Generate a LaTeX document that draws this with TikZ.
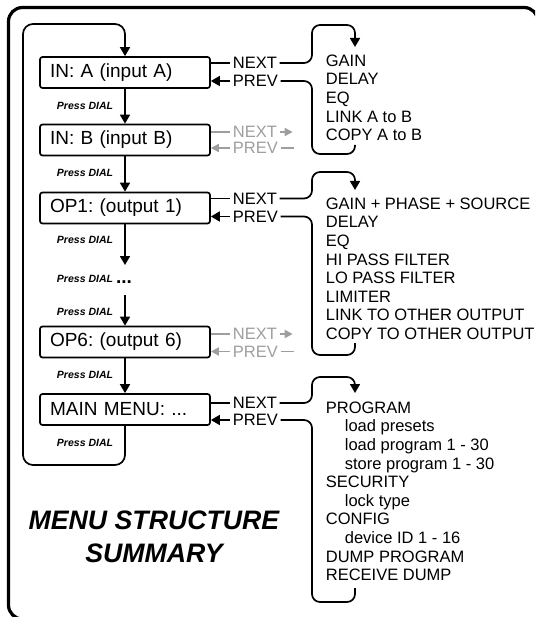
\documentclass[tikz,border=0pt]{standalone}
\usepackage{fontspec}
\setmainfont{Liberation Sans}
\usetikzlibrary{arrows.meta}
\definecolor{dimgray}{gray}{0.62}
\frenchspacing

\begin{document}
\begin{tikzpicture}[x=1pt,y=-1pt,>={Triangle[length=9pt,width=10pt]},line width=1.7pt,
    menu node/.style={draw,rounded corners=2.5pt,minimum height=31pt,text width=150pt,inner xsep=10pt,align=left,font=\fontsize{19}{22}\selectfont},
    dial node/.style={inner sep=0pt,font=\fontsize{10.5}{12}\selectfont\bfseries\itshape},
    key node/.style={anchor=west,inner sep=2pt,font=\fontsize{16.5}{18}\selectfont},
    grey node/.style={key node,text=dimgray},
    list node/.style={anchor=north west,inner sep=0pt,align=left,font=\fontsize{16.5}{18.6}\selectfont}]
                \useasboundingbox (0,0) rectangle (535,617);
                \clip (0,0) rectangle (535,617);
                \draw[line width=3.2pt,rounded corners=14pt] (538,40) |- (8.5,7.5) |- (60,619);

                \node[menu node] (inA) at (125,72.5) {IN: A (input A)};
                \node[menu node] (inB) at (125,140) {IN: B (input B)};
                \node[menu node] (op1) at (125,208) {OP1: (output 1)};
                \node[menu node] (op6) at (125,342) {OP6: (output 6)};
                \node[menu node] (main) at (125,409.5) {MAIN MENU: ...};

                \node[dial node] (d1) at (85,106) {Press DIAL};
                \node[dial node] (d2) at (85,173) {Press DIAL};
                \node[dial node] (d3) at (85,240) {Press DIAL};
                \node[dial node] (d4) at (85,279) {Press DIAL};
                \node[dial node,anchor=base,font=\fontsize{19}{19}\selectfont\bfseries] (dots) at (124,283) {...};
                \node[dial node] (d5) at (85,312) {Press DIAL};
                \node[dial node] (d6) at (85,375) {Press DIAL};
                \node[dial node] (d7) at (85,443) {Press DIAL};
                \coordinate (gapT) at (125,265);
                \coordinate (gapB) at (125,295);

                \path[->]
                    (inA) edge (inB)
                    (inB) edge (op1)
                    (op1) edge (gapT)
                    (gapB) edge (op6)
                    (op6) edge (main)
                    ;
                \draw[->,rounded corners=10pt] (main.south) -- (125,465) -| (23,24) -| (inA.north);

                \node[key node] (nA) at (230,63) {NEXT};
                \node[key node] (pA) at (230,81) {PREV};
                \node[grey node] (nB) at (230,132) {NEXT};
                \node[grey node] (pB) at (230,148) {PREV};
                \node[key node] (n1) at (230,198.5) {NEXT};
                \node[key node] (p1) at (230,216.5) {PREV};
                \node[grey node] (n6) at (230,334) {NEXT};
                \node[grey node] (p6) at (230,351.5) {PREV};
                \node[key node] (nM) at (230,403) {NEXT};
                \node[key node] (pM) at (230,420) {PREV};

                \draw (inA.east |- nA.west) -- (nA.west);
                \draw[->] (pA.west) -- (inA.east |- pA.west);
                \draw (op1.east |- n1.west) -- (n1.west);
                \draw[->] (p1.west) -- (op1.east |- p1.west);
                \draw (main.east |- nM.west) -- (nM.west);
                \draw[->] (pM.west) -- (main.east |- pM.west);

                \begin{scope}[dimgray,>={Triangle[length=8pt,width=8pt]}]
                    \draw (inB.east |- nB.west) -- (nB.west);
                    \draw[->] (nB.east) -- ++(13,0);
                    \draw[->] (pB.west) -- (inB.east |- pB.west);
                    \draw (pB.east) -- ++(13,0);
                    \draw (op6.east |- n6.west) -- (n6.west);
                    \draw[->] (n6.east) -- ++(13,0);
                    \draw[->] (p6.west) -- (op6.east |- p6.west);
                    \draw (p6.east) -- ++(13,0);
                \end{scope}

                \node[list node] (lA) at (325,54) {GAIN\\DELAY\\EQ\\LINK A to B\\COPY A to B};
                \node[list node] (l1) at (325,197) {GAIN + PHASE + SOURCE\\DELAY\\EQ\\HI PASS FILTER\\LO PASS FILTER\\LIMITER\\LINK TO OTHER OUTPUT\\COPY TO OTHER OUTPUT};
                \node[list node] (lM) at (325,401) {PROGRAM\\\hspace*{19pt}load presets\\\hspace*{19pt}load program 1 - 30\\\hspace*{19pt}store program 1 - 30\\SECURITY\\\hspace*{19pt}lock type\\CONFIG\\\hspace*{19pt}device ID 1 - 16\\DUMP PROGRAM\\RECEIVE DUMP};

                \coordinate (tA) at (355,47);
                \coordinate (bA) at (355,145);
                \coordinate (t1) at (355,190);
                \coordinate (b1) at (355,343);
                \coordinate (tM) at (355,393);
                \coordinate (bM) at (355,588);
                \draw[->,rounded corners=8pt] (nA.east) -| (312,25) -| (tA);
                \draw[rounded corners=8pt] (pA.east) -| (312,154) -| (bA);
                \draw[->,rounded corners=8pt] (n1.east) -| (312,172) -| (t1);
                \draw[rounded corners=8pt] (p1.east) -| (312,355) -| (b1);
                \draw[->,rounded corners=8pt] (nM.east) -| (312,377) -| (tM);
                \draw[rounded corners=8pt] (pM.east) -| (312,602) -| (bM);

                \node[font=\fontsize{26.7}{33}\selectfont\bfseries\itshape,align=center] (title) at (154,536.5) {MENU STRUCTURE\\SUMMARY};
            \end{tikzpicture}
\end{document}
